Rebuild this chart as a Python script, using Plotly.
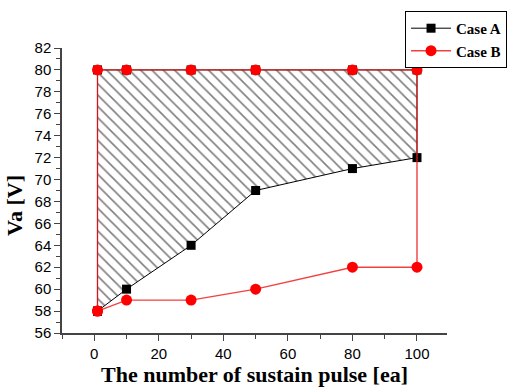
import plotly.graph_objects as go

x_pulses = [1, 10, 30, 50, 80, 100]
case_a_low = [58, 60, 64, 69, 71, 72]
case_a_high = [80, 80, 80, 80, 80, 80]
case_b_low = [58, 59, 59, 60, 62, 62]
case_b_high = [80, 80, 80, 80, 80, 80]

def closed(xs, low, high):
    px = list(xs) + list(reversed(xs)) + [xs[0]]
    py = list(low) + list(reversed(high)) + [low[0]]
    return px, py

ax, ay = closed(x_pulses, case_a_low, case_a_high)
bx, by = closed(x_pulses, case_b_low, case_b_high)

fig = go.Figure()
fig.add_trace(go.Scatter(
    x=ax, y=ay, mode="lines", fill="toself", showlegend=False, hoverinfo="skip",
    line=dict(width=0, color="rgba(0,0,0,0)"),
    fillcolor="rgba(255,255,255,0)",
    fillpattern=dict(shape="\\", fgcolor="black", bgcolor="rgba(255,255,255,0)", size=8, solidity=0.2),
))
fig.add_trace(go.Scatter(
    x=ax, y=ay, mode="lines+markers", name="<b>Case A</b>",
    line=dict(color="black", width=1),
    marker=dict(symbol="square", size=9, color="black"),
))
fig.add_trace(go.Scatter(
    x=bx, y=by, mode="lines+markers", name="<b>Case B</b>",
    line=dict(color="rgba(240,30,30,0.85)", width=1.4),
    marker=dict(symbol="circle", size=11, color="red"),
))

axis_common = dict(
    showline=True, linecolor="#444", linewidth=1.5, showgrid=False, zeroline=False,
    ticks="outside", ticklen=6, tickcolor="#444", tickwidth=1.2,
    tickfont=dict(family="Liberation Sans, Arial", size=15, color="black"),
    mirror=False, automargin=False,
)
fig.update_xaxes(
    range=[-10, 109.3], tickmode="array", tickvals=[0, 20, 40, 60, 80, 100],
    minor=dict(tickvals=[-10, 10, 30, 50, 70, 90], ticklen=4, tickcolor="#444", ticks="outside"),
    title=dict(text="<b>The number of sustain pulse [ea]</b>", font=dict(family="Liberation Serif, Times New Roman", size=22, color="black"), standoff=6),
    **axis_common,
)
fig.update_yaxes(
    range=[56, 82], tickmode="array", tickvals=list(range(56, 83, 2)),
    minor=dict(tickvals=list(range(57, 82, 2)), ticklen=4, tickcolor="#444", ticks="outside"),
    **axis_common,
)
fig.add_annotation(
    text="<b>Va [V]</b>", textangle=-90, xref="paper", yref="paper",
    x=-0.122, y=0.446, xanchor="center", yanchor="middle", showarrow=False,
    font=dict(family="Liberation Serif, Times New Roman", size=22, color="black"),
)
fig.update_layout(
    width=515, height=389,
    margin=dict(l=62, r=68, t=48, b=56, autoexpand=False),
    plot_bgcolor="white", paper_bgcolor="white",
    legend=dict(
        x=0.891, y=1.13, xanchor="left", yanchor="top",
        bordercolor="black", borderwidth=1, bgcolor="white",
        font=dict(family="Liberation Serif, Times New Roman", size=15, color="black"),
        itemwidth=40, tracegroupgap=0,
    ),
)
fig.write_html("out.html", config={"displayModeBar": False},
               post_script="document.body.style.margin='0';document.body.style.overflow='hidden';")
